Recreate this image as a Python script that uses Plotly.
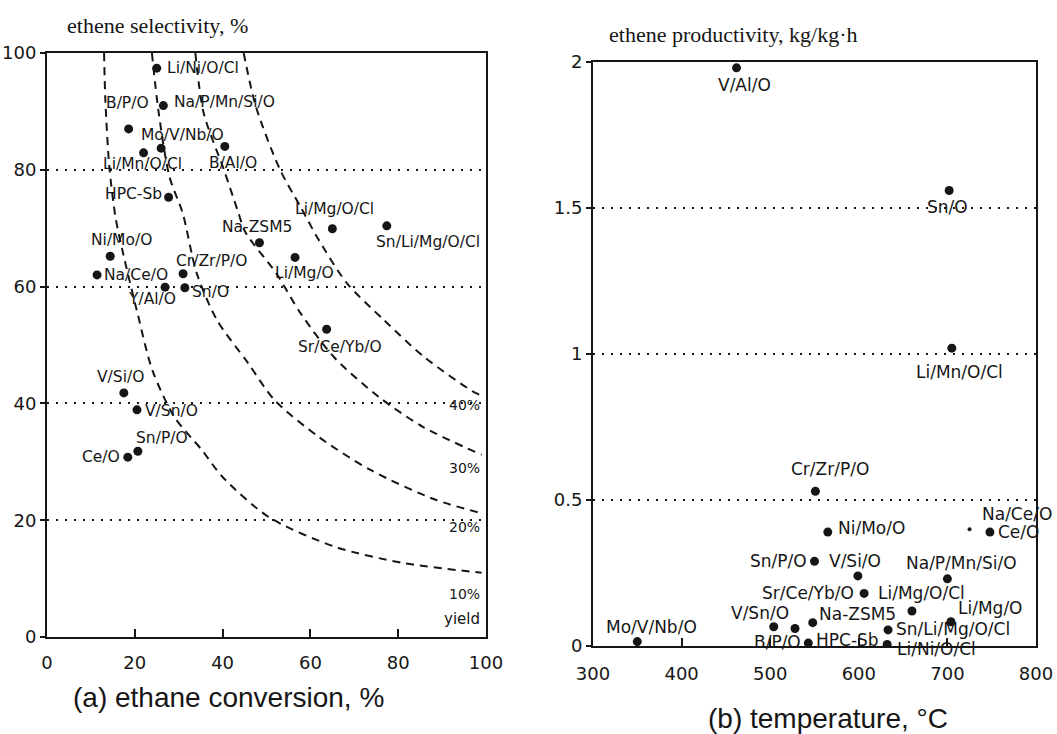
import plotly.graph_objects as go

# ---------------- Panel (a): selectivity vs conversion ----------------
names_a = ["Li/Ni/O/Cl", "Na/P/Mn/Si/O", "B/P/O", "Mo/V/Nb/O", "Li/Mn/O/Cl", "B/Al/O",
           "HPC-Sb", "Li/Mg/O/Cl", "Sn/Li/Mg/O/Cl", "Na-ZSM5", "Ni/Mo/O", "Li/Mg/O",
           "Na/Ce/O", "Cr/Zr/P/O", "Y/Al/O", "Sn/O", "Sr/Ce/Yb/O", "V/Si/O", "V/Sn/O",
           "Sn/P/O", "Ce/O"]
conversion_a = [25, 26.5, 18.6, 26, 22, 40.5, 27.7, 65, 77.4, 48.4, 14.4, 56.5,
                11.4, 31, 26.9, 31.4, 63.7, 17.5, 20.5, 20.7, 18.4]
selectivity_a = [97.4, 91, 87, 83.7, 82.9, 84, 75.3, 69.9, 70.4, 67.5, 65.2, 65,
                 62, 62.2, 59.9, 59.8, 52.7, 41.8, 38.9, 31.8, 30.8]

# iso-yield curves, points (conversion, selectivity)
yield10_x = [13.0, 13.3, 14.2, 15.6, 17.3, 20.6, 24.0, 29.0, 35.3, 40.0, 50.6, 65.8, 81.0, 99.0]
yield10_y = [100, 91.8, 80.5, 71.9, 65.8, 55.5, 45.7, 37.7, 32.0, 27.4, 20.5, 15.4, 12.7, 11.0]
yield20_x = [23.9, 25.4, 27.9, 30.9, 34.1, 38.7, 45.8, 51.8, 62.0, 73.7, 88.5, 99.0]
yield20_y = [100, 90.0, 78.8, 72.6, 62.3, 54.3, 46.9, 40.6, 34.2, 28.6, 23.5, 21.2]
yield30_x = [33.8, 35.7, 40.3, 43.4, 45.2, 52.2, 57.7, 65.4, 75.6, 85.6, 99.0]
yield30_y = [100, 89.7, 80.0, 73.1, 69.3, 62.3, 55.5, 47.9, 41.1, 36.0, 31.2]
yield40_x = [44.8, 47.6, 53.1, 57.8, 61.9, 68.3, 76.7, 86.0, 97.6, 99.5]
yield40_y = [100, 90.8, 80.0, 73.6, 68.0, 60.6, 54.3, 47.9, 41.8, 41.3]

yield_labels = ["10%", "20%", "30%", "40%"]
yield_label_y = [7.3, 18.8, 29, 39.7]

ticks_a_x = [0, 20, 40, 60, 80, 100]
ticks_a_y = [0, 20, 40, 60, 80, 100]

# ---------------- Panel (b): productivity vs temperature ----------------
names_b = ["V/Al/O", "Sn/O", "Li/Mn/O/Cl", "Cr/Zr/P/O", "Ni/Mo/O", "Na/Ce/O", "Ce/O",
           "Sn/P/O", "V/Si/O", "Na/P/Mn/Si/O", "Sr/Ce/Yb/O", "Li/Mg/O/Cl", "V/Sn/O",
           "B/P/O", "Na-ZSM5", "HPC-Sb", "Mo/V/Nb/O", "Sn/Li/Mg/O/Cl", "Li/Ni/O/Cl", "Li/Mg/O"]
temperature_b = [462, 702, 705, 551, 565, 725, 748, 550, 599, 700, 606, 660, 504,
                 528, 548, 543, 350, 633, 632, 704]
productivity_b = [1.98, 1.56, 1.02, 0.53, 0.39, 0.40, 0.39, 0.29, 0.24, 0.23, 0.18,
                  0.12, 0.066, 0.06, 0.08, 0.01, 0.015, 0.055, 0.005, 0.083]

ticks_b_x = [300, 400, 500, 600, 700, 800]
ticks_b_y = [0, 0.5, 1, 1.5, 2]
ticks_b_ytext = ["0", "0.5", "1", "1.5", "2"]

# ---------------- label placement (anchor, x shift px, y shift px) ----------------
place_a = [("left", 8, 0), ("left", 9, 4), ("center", -1, 26), ("center", 21, 13),
           ("center", -1, -11), ("center", 8, -17), ("right", -5, 3), ("center", 2, 20),
           ("left", -13, -16), ("center", -2, 16), ("center", 11, 16), ("center", 9, -16),
           ("left", 5, 0), ("left", -9, 13), ("center", -13, -12), ("left", 5, -4),
           ("center", 13, -18), ("center", -3, 16), ("left", 6, -1), ("left", -4, 13),
           ("right", -6, 0)]
place_b = [("center", 8, -17), ("center", -2, -17), ("center", 8, -24), ("center", 15, 22),
           ("left", 8, 4), ("left", 10, 15), ("left", 6, 0), ("right", -6, 0),
           ("center", -3, 15), ("center", 14, 16), ("right", -8, 0), ("center", 10, 18),
           ("center", -14, 14), ("center", -18, -14), ("left", 4, 9), ("left", 6, 3),
           ("center", 14, 15), ("left", 6, 1), ("left", 8, -4), ("left", 5, 14)]

INK = "#161616"
LABEL_FONT = "DejaVu Sans"
W, H = 1057, 734


def px(x):
    return x / W


def py(y):
    return 1 - y / H


fig = go.Figure()

for cx, cy in [(yield10_x, yield10_y), (yield20_x, yield20_y),
               (yield30_x, yield30_y), (yield40_x, yield40_y)]:
    fig.add_trace(go.Scatter(x=cx, y=cy, mode="lines", xaxis="x", yaxis="y",
                             line=dict(color=INK, width=2, dash="8px,6px",
                                       shape="spline", smoothing=0.8),
                             hoverinfo="skip", showlegend=False))

fig.add_trace(go.Scatter(x=conversion_a, y=selectivity_a, mode="markers",
                         xaxis="x", yaxis="y", text=names_a,
                         marker=dict(color=INK, size=9, opacity=1), showlegend=False))

sizes_b = [4 if n == "Na/Ce/O" else 9 for n in names_b]
fig.add_trace(go.Scatter(x=temperature_b, y=productivity_b, mode="markers",
                         xaxis="x2", yaxis="y2", text=names_b,
                         marker=dict(color=INK, size=sizes_b, opacity=1,
                                     line=dict(width=0)),
                         showlegend=False))

annotations = []
for n, xv, yv, (anc, dx, dy) in zip(names_a, conversion_a, selectivity_a, place_a):
    annotations.append(dict(x=xv, y=yv, xref="x", yref="y", text=n, showarrow=False,
                            xanchor=anc, yanchor="middle", xshift=dx, yshift=dy,
                            font=dict(family=LABEL_FONT, size=15.5, color=INK)))
for n, xv, yv, (anc, dx, dy) in zip(names_b, temperature_b, productivity_b, place_b):
    annotations.append(dict(x=xv, y=yv, xref="x2", yref="y2", text=n, showarrow=False,
                            xanchor=anc, yanchor="middle", xshift=dx, yshift=dy,
                            font=dict(family=LABEL_FONT, size=17, color=INK)))
for lab, yv in zip(yield_labels, yield_label_y):
    annotations.append(dict(x=99, y=yv, xref="x", yref="y", text=lab, showarrow=False,
                            xanchor="right", yanchor="middle",
                            font=dict(family=LABEL_FONT, size=14, color=INK)))
annotations.append(dict(x=99, y=3, xref="x", yref="y", text="yield", showarrow=False,
                        xanchor="right", yanchor="middle",
                        font=dict(family=LABEL_FONT, size=15, color=INK)))

# axis titles
annotations += [
    dict(x=px(65), y=py(26), xref="paper", yref="paper",
         text="ethene selectivity, %", showarrow=False, xanchor="left", yanchor="middle",
         font=dict(family="Liberation Serif", size=22, color=INK)),
    dict(x=px(607), y=py(34), xref="paper", yref="paper",
         text="ethene productivity, kg/kg·h", showarrow=False, xanchor="left",
         yanchor="middle", font=dict(family="Liberation Serif", size=22, color=INK)),
    dict(x=px(228), y=py(697), xref="paper", yref="paper",
         text="(a) ethane conversion, %", showarrow=False, xanchor="center",
         yanchor="middle", font=dict(family="Liberation Sans", size=28, color=INK)),
    dict(x=px(828), y=py(718), xref="paper", yref="paper",
         text="(b) temperature, °C", showarrow=False, xanchor="center",
         yanchor="middle", font=dict(family="Liberation Sans", size=28, color=INK)),
]

tickfont = dict(family=LABEL_FONT, size=18, color=INK)
frame = dict(showline=True, linewidth=2, linecolor=INK, mirror=True, zeroline=False,
             automargin=False, ticklabeloverflow="allow")

fig.update_layout(
    width=W, height=H,
    margin=dict(l=0, r=0, t=0, b=0, pad=0),
    paper_bgcolor="white", plot_bgcolor="white",
    showlegend=False,
    annotations=annotations,
    xaxis=dict(domain=[px(47), px(486)], range=[0, 100], anchor="y",
               tickvals=ticks_a_x, ticks="inside", ticklen=8, tickwidth=2, tickcolor=INK,
               showgrid=False, tickfont=tickfont, ticklabelstandoff=8, **frame),
    yaxis=dict(domain=[py(637), py(53)], range=[0, 100], anchor="x",
               tickvals=ticks_a_y, ticks="outside", ticklen=5, tickwidth=2, tickcolor=INK,
               showgrid=True, gridcolor=INK, gridwidth=2, griddash="2px,7px",
               tickfont=tickfont, **frame),
    xaxis2=dict(domain=[px(593), px(1036)], range=[300, 800], anchor="y2",
                tickvals=ticks_b_x, ticks="inside", ticklen=8, tickwidth=2, tickcolor=INK,
                showgrid=False, tickfont=tickfont, ticklabelstandoff=10, **frame),
    yaxis2=dict(domain=[py(646), py(62)], range=[0, 2], anchor="x2",
                tickvals=ticks_b_y, ticktext=ticks_b_ytext, ticks="outside", ticklen=5,
                tickwidth=2, tickcolor=INK,
                showgrid=True, gridcolor=INK, gridwidth=2, griddash="2px,7px",
                tickfont=tickfont, **frame),
)

# remove the default page margin so the figure fills the window exactly
fig.write_html("out.html",
               config={"displayModeBar": False},
               post_script="document.body.style.margin='0px';"
                           "document.body.style.overflow='hidden';")
